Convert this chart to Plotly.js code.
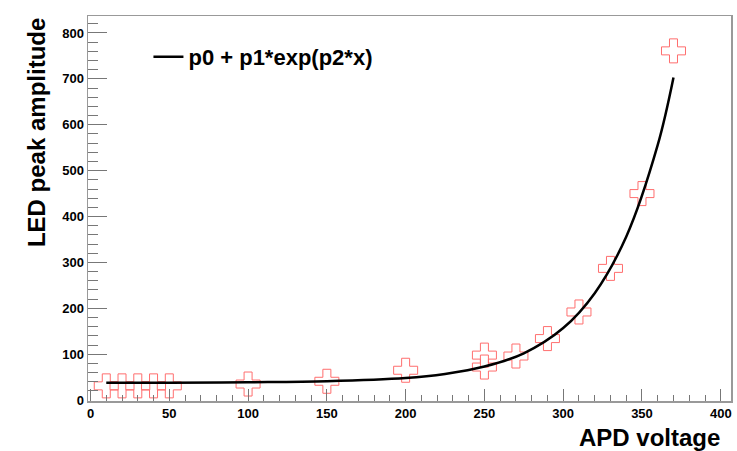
<!DOCTYPE html>
<html>
<head>
<meta charset="utf-8">
<script src="https://cdn.plot.ly/plotly-3.0.1.min.js"></script>
<style>html,body{margin:0;padding:0;background:#fff;}#chart{width:737px;height:451px;}</style>
</head>
<body>
<div id="chart"></div>
<script>
// Measured points (APD voltage vs LED peak amplitude)
var voltage = [10, 20, 30, 40, 50, 100, 150, 200, 250, 250, 270, 290, 310, 330, 350, 370];
var amplitude = [31, 31, 31, 31, 31, 35, 41, 65, 98, 72, 96, 134, 192, 287, 450, 761];

// Fit curve p0 + p1*exp(p2*x)
var fitX = [10, 50, 100, 150, 200, 225, 250, 275, 300, 320, 340, 360, 370];
var fitY = [38, 38, 39, 41, 48, 57, 73, 102, 157, 233, 356, 556, 703];

var fitName = 'p0 + p1*exp(p2*x)';
var xTitle = 'APD voltage';
var yTitle = 'LED peak amplitude';

var FONT = 'Liberation Sans, Arial, Helvetica, sans-serif';

var traces = [
  {
    x: voltage, y: amplitude, type: 'scatter', mode: 'markers',
    marker: {symbol: 'cross-open', size: 20, color: 'rgb(255,110,110)', line: {width: 1, color: 'rgb(255,110,110)'}},
    showlegend: false, hoverinfo: 'x+y'
  },
  {
    x: fitX, y: fitY, type: 'scatter', mode: 'lines', name: fitName,
    line: {color: '#000', width: 2.5, shape: 'spline', smoothing: 1.0},
    showlegend: true
  }
];

var layout = {
  width: 737, height: 451,
  margin: {l: 88, r: 6, t: 16, b: 50},
  paper_bgcolor: '#fff', plot_bgcolor: '#fff',
  font: {family: FONT, color: '#000'},
  showlegend: true,
  legend: {
    x: 0.094, y: 0.948, xanchor: 'left', yanchor: 'top',
    bgcolor: 'rgba(0,0,0,0)', borderwidth: 0,
    font: {family: FONT, size: 22, weight: 'bold', color: '#000'}
  },
  xaxis: {
    range: [-1.6, 406.5], showgrid: false, zeroline: false,
    showline: true, linecolor: '#999', linewidth: 1.5, mirror: true,
    ticks: 'inside', ticklen: 12, tickwidth: 1, tickcolor: '#777',
    tick0: 0, dtick: 50,
    minor: {dtick: 10, ticks: 'inside', ticklen: 6, tickcolor: '#777', tickwidth: 1},
    tickfont: {family: FONT, size: 13, weight: 'bold', color: '#000'}
  },
  yaxis: {
    range: [-2, 837], showgrid: false, zeroline: false,
    showline: true, linecolor: '#999', linewidth: 1.5, mirror: true,
    ticks: 'inside', ticklen: 19, tickwidth: 1, tickcolor: '#777',
    tick0: 0, dtick: 100,
    minor: {dtick: 20, ticks: 'inside', ticklen: 10, tickcolor: '#777', tickwidth: 1},
    tickfont: {family: FONT, size: 13, weight: 'bold', color: '#000'}
  },
  annotations: [
    {
      text: xTitle, xref: 'paper', yref: 'paper', x: 0.986, y: -0.055,
      xanchor: 'right', yanchor: 'top', showarrow: false,
      font: {family: FONT, size: 24, weight: 'bold', color: '#000'}
    },
    {
      text: yTitle, xref: 'paper', yref: 'paper', x: -0.08, y: 1.0,
      xanchor: 'center', yanchor: 'top', textangle: -90, showarrow: false,
      font: {family: FONT, size: 24, weight: 'bold', color: '#000'}
    }
  ]
};

Plotly.newPlot('chart', traces, layout, {displayModeBar: false, staticPlot: true});
</script>
</body>
</html>
